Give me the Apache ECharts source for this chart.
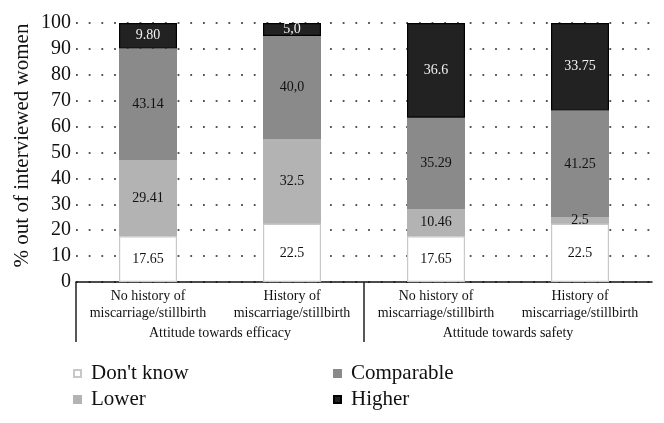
<!DOCTYPE html>
<html>
<head>
<meta charset="utf-8">
<script src="https://cdn.jsdelivr.net/npm/echarts@6/dist/echarts.min.js"></script>
<style>html,body{margin:0;padding:0;background:#fff}#c{width:664px;height:423px}</style>
</head>
<body>
<div id="c"></div>
<script>
var categories = ['No history of\nmiscarriage/stillbirth', 'History of\nmiscarriage/stillbirth', 'No history of\nmiscarriage/stillbirth', 'History of\nmiscarriage/stillbirth'];
var groupNames = ['Attitude towards efficacy', 'Attitude towards safety'];
var seriesNames = ["Don't know", 'Lower', 'Comparable', 'Higher'];
var dontKnow = [17.65, 22.5, 17.65, 22.5];
var lower = [29.41, 32.5, 10.46, 2.5];
var comparable = [43.14, 40.0, 35.29, 41.25];
var higher = [9.80, 5.0, 36.6, 33.75];
var dontKnowLabels = ['17.65', '22.5', '17.65', '22.5'];
var lowerLabels = ['29.41', '32.5', '10.46', '2.5'];
var comparableLabels = ['43.14', '40,0', '35.29', '41.25'];
var higherLabels = ['9.80', '5,0', '36.6', '33.75'];
var yTicks = [0, 10, 20, 30, 40, 50, 60, 70, 80, 90, 100];

var FONT = '"Liberation Serif", "DejaVu Serif", serif';
var chart = echarts.init(document.getElementById('c'), null, {renderer: 'canvas'});

function mk(name, data, labels, color, border, textColor) {
  return {
    name: name, type: 'bar', stack: 'all', data: data, barWidth: 58,
    itemStyle: {color: color, borderColor: border, borderWidth: 1.2},
    label: {show: true, position: 'inside', fontFamily: FONT, fontSize: 14, color: textColor,
      formatter: function (p) { return labels[p.dataIndex]; }},
    emphasis: {disabled: true}
  };
}

var legendPos = [[73, 363], [73, 389], [333, 363], [333, 389]];
var legends = seriesNames.map(function (n, i) {
  return {
    data: [n], left: legendPos[i][0], top: legendPos[i][1], padding: 0,
    itemWidth: 7, itemHeight: 7, icon: 'rect', selectedMode: false,
    textStyle: {fontFamily: FONT, fontSize: 21, color: '#111', padding: [0, 0, 0, 5]}
  };
});

chart.setOption({
  animation: false,
  backgroundColor: '#fff',
  grid: {left: 76, right: 12, top: 23, bottom: 141, containLabel: false},
  legend: legends,
  xAxis: [{
    type: 'category', data: categories, boundaryGap: true,
    axisLine: {show: true, lineStyle: {color: '#111', width: 1.5}},
    axisTick: {show: false},
    axisLabel: {fontFamily: FONT, fontSize: 14, color: '#111', lineHeight: 17, margin: 6, interval: 0}
  }, {
    type: 'value', min: 0, max: 4, position: 'bottom',
    axisLine: {show: false},
    splitLine: {show: false},
    axisTick: {show: true, length: 60, customValues: [0, 2], lineStyle: {color: '#222', width: 1.5}},
    axisLabel: {show: true, customValues: [1, 3], margin: 44, fontFamily: FONT, fontSize: 14, color: '#111',
      formatter: function (v) { return groupNames[Math.round((v - 1) / 2)]; }}
  }],
  yAxis: {
    type: 'value', min: 0, max: 100, interval: 10,
    name: '% out of interviewed women', nameLocation: 'middle', nameGap: 43, nameMoveOverlap: false,
    nameTextStyle: {fontFamily: FONT, fontSize: 21, color: '#111', padding: [0, 0, 0, 14]},
    axisLine: {show: false}, axisTick: {show: false},
    axisLabel: {fontFamily: FONT, fontSize: 20, color: '#111', margin: 5,
      formatter: function (v) { return yTicks.indexOf(v) >= 0 ? String(v) : ''; }},
    splitLine: {show: true, lineStyle: {color: '#555', width: 1.8, type: [1.8, 10.9]}}
  },
  series: [
    mk(seriesNames[0], dontKnow, dontKnowLabels, '#ffffff', '#c8c8c8', '#111'),
    mk(seriesNames[1], lower, lowerLabels, '#b3b3b3', '#b3b3b3', '#111'),
    mk(seriesNames[2], comparable, comparableLabels, '#8a8a8a', '#8a8a8a', '#111'),
    mk(seriesNames[3], higher, higherLabels, '#222222', '#000000', '#f2f2f2')
  ]
});
</script>
</body>
</html>
